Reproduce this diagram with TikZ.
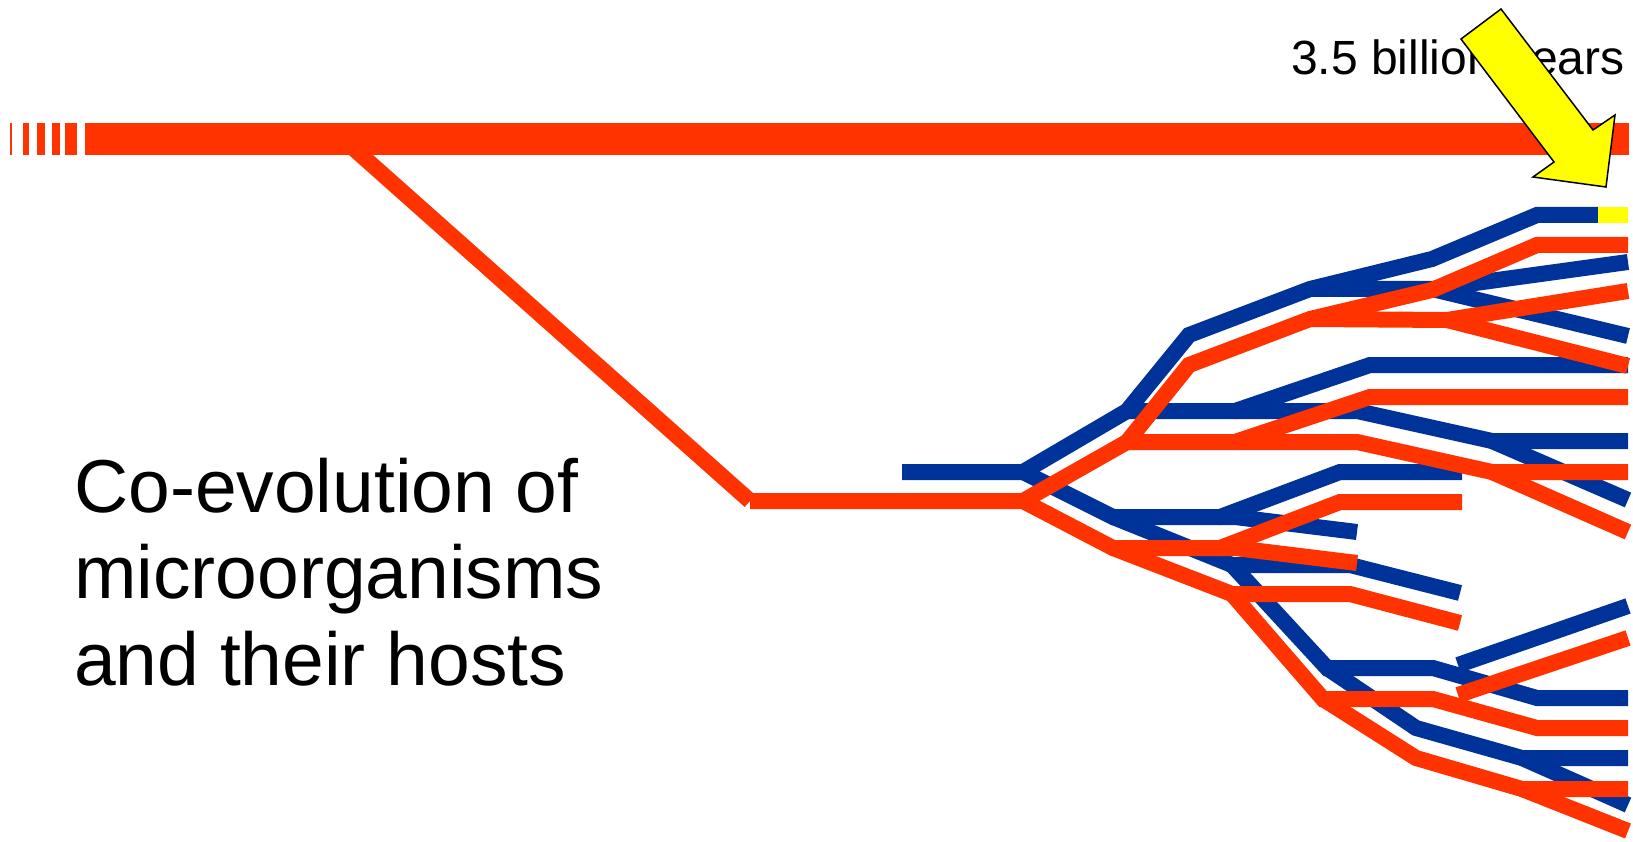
\documentclass[tikz,border=0pt]{standalone}
\usepackage{fontspec}
\setmainfont{Liberation Sans}
\definecolor{hostred}{HTML}{FF3300}
\definecolor{microblue}{HTML}{003399}
\definecolor{markyellow}{HTML}{FFFF00}
\begin{document}
\begin{tikzpicture}[x=1pt,y=-1pt,
  bl/.style={draw=microblue, line width=16pt, line cap=butt, line join=miter},
  rd/.style={draw=hostred, line width=16pt, line cap=butt, line join=miter},
  bar/.style={fill=hostred, draw=none},
  bigtext/.style={anchor=base west, inner sep=0pt, font=\fontsize{75}{87}\selectfont},
  smalltext/.style={anchor=base west, inner sep=0pt, font=\fontsize{48}{56}\selectfont},
  arrowshape/.style={fill=markyellow, draw=black, line width=1.5pt, line join=miter}]
\useasboundingbox (0,0) rectangle (1633,842);
\fill[white] (0,0) rectangle (1633,842);

% main timeline bar
\fill[bar] (9.5,123) rectangle (11.8,155);
\fill[bar] (22.7,123) rectangle (29.3,155);
\fill[bar] (36.7,123) rectangle (45,155);
\fill[bar] (52.3,123) rectangle (60,155);
\fill[bar] (65,123) rectangle (77.3,155);
\fill[bar] (85,123) rectangle (1629,155);
\coordinate (m0) at (343,139);

% ---------- blue coordinates ----------
\coordinate (b0s) at (902,472);
\coordinate (b0) at (1023,472);
\coordinate (b1) at (1127,411);
\coordinate (b2) at (1189,335);
\coordinate (b3) at (1310,289);
\coordinate (b4) at (1432,259);
\coordinate (b5) at (1537,215);
\coordinate (b5e) at (1598,215);
\coordinate (y5e) at (1628,215);
\coordinate (b3h) at (1432,289);
\coordinate (b3u) at (1628,262);
\coordinate (b3d) at (1628,336);
\coordinate (b1h) at (1235,411);
\coordinate (b6) at (1370,365);
\coordinate (b6e) at (1628,365);
\coordinate (b7) at (1357,411);
\coordinate (b8) at (1492,441);
\coordinate (b8e) at (1628,441);
\coordinate (b8d) at (1628,500);
\coordinate (b9) at (1113,517);
\coordinate (b10) at (1220,517);
\coordinate (b11) at (1340,472);
\coordinate (b11e) at (1462,472);
\coordinate (b10b) at (1235,517);
\coordinate (b12) at (1357,532);
\coordinate (b13) at (1232,565);
\coordinate (b14) at (1350,565);
\coordinate (b15) at (1460,593);
\coordinate (b16) at (1327,668);
\coordinate (b17) at (1433,668);
\coordinate (b18) at (1537,698);
\coordinate (b18e) at (1628,698);
\coordinate (b19) at (1458,665);
\coordinate (b19e) at (1628,606);
\coordinate (b20) at (1416,728);
\coordinate (b21) at (1522,758);
\coordinate (b21e) at (1628,758);
\coordinate (b21d) at (1628,805);

% ---------- red coordinates ----------
\coordinate (r0s) at (750,501);
\coordinate (r0) at (1023,501);
\coordinate (r1) at (1127,442);
\coordinate (r2) at (1189,365);
\coordinate (r3) at (1310,319);
\coordinate (r4) at (1432,290);
\coordinate (r5) at (1537,245);
\coordinate (r5e) at (1628,245);
\coordinate (r3h) at (1447,320);
\coordinate (r3u) at (1628,291);
\coordinate (r3d) at (1628,366);
\coordinate (r1h) at (1235,442);
\coordinate (r6) at (1370,397);
\coordinate (r6e) at (1628,397);
\coordinate (r7) at (1357,442);
\coordinate (r8) at (1492,472);
\coordinate (r8e) at (1628,472);
\coordinate (r8d) at (1628,532);
\coordinate (r9) at (1113,548);
\coordinate (r10) at (1220,548);
\coordinate (r11) at (1340,502);
\coordinate (r11e) at (1462,502);
\coordinate (r10b) at (1235,548);
\coordinate (r12) at (1357,563);
\coordinate (r13) at (1232,594);
\coordinate (r14) at (1350,594);
\coordinate (r15) at (1460,623);
\coordinate (r16) at (1323,699);
\coordinate (r17) at (1433,699);
\coordinate (r18) at (1537,728);
\coordinate (r18e) at (1628,728);
\coordinate (r19) at (1458,695);
\coordinate (r19e) at (1628,638);
\coordinate (r20) at (1416,758);
\coordinate (r21) at (1522,789);
\coordinate (r21e) at (1628,789);
\coordinate (r21d) at (1628,831);

% ---------- blue tree (microorganisms) ----------
\draw[bl] (b0s) -- (b0) -- (b1) -- (b2) -- (b3) -- (b4) -- (b5) -- (b5e);
\draw[draw=markyellow, line width=16pt, line cap=butt] (b5e) -- (y5e);
\draw[bl] (b3) -- (b3h) -- (b3u);
\draw[bl] (b3h) -- (b3d);
\draw[bl] (b1) -- (b1h) -- (b6) -- (b6e);
\draw[bl] (b1h) -- (b7) -- (b8) -- (b8e);
\draw[bl] (b8) -- (b8d);
\draw[bl] (b0) -- (b9) -- (b10) -- (b11) -- (b11e);
\draw[bl] (b10) -- (b10b) -- (b12);
\draw[bl] (b9) -- (b13) -- (b14) -- (b15);
\draw[bl] (b13) -- (b16) -- (b17) -- (b18) -- (b18e);
\draw[bl] (b19) -- (b19e);
\draw[bl] (b16) -- (b20) -- (b21) -- (b21e);
\draw[bl] (b21) -- (b21d);

% ---------- red tree (hosts) ----------
\draw[rd] (m0) -- (r0s);
\draw[rd] (r0s) -- (r0) -- (r1) -- (r2) -- (r3) -- (r4) -- (r5) -- (r5e);
\draw[rd] (r3) -- (r3h) -- (r3u);
\draw[rd] (r3h) -- (r3d);
\draw[rd] (r1) -- (r1h) -- (r6) -- (r6e);
\draw[rd] (r1h) -- (r7) -- (r8) -- (r8e);
\draw[rd] (r8) -- (r8d);
\draw[rd] (r0) -- (r9) -- (r10) -- (r11) -- (r11e);
\draw[rd] (r10) -- (r10b) -- (r12);
\draw[rd] (r9) -- (r13) -- (r14) -- (r15);
\draw[rd] (r13) -- (r16) -- (r17) -- (r18) -- (r18e);
\draw[rd] (r19) -- (r19e);
\draw[rd] (r16) -- (r20) -- (r21) -- (r21e);
\draw[rd] (r21) -- (r21d);

% ---------- texts ----------
\node[bigtext] (t1) at (74,512) {Co-evolution of};
\node[bigtext] (t2) at (74,598) {microorganisms};
\node[bigtext] (t3) at (74,685) {and their hosts};
\node[smalltext] (age) at (1291,75) {3.5 billion years};

% ---------- yellow arrow ----------
\coordinate (a1) at (1461,39);
\coordinate (a2) at (1554,162);
\coordinate (a3) at (1533,177);
\coordinate (a4) at (1606,187);
\coordinate (a5) at (1615,115);
\coordinate (a6) at (1593,130);
\coordinate (a7) at (1501,9);
\draw[arrowshape] (a1) -- (a2) -- (a3) -- (a4) -- (a5) -- (a6) -- (a7) -- cycle;
\end{tikzpicture}
\end{document}
